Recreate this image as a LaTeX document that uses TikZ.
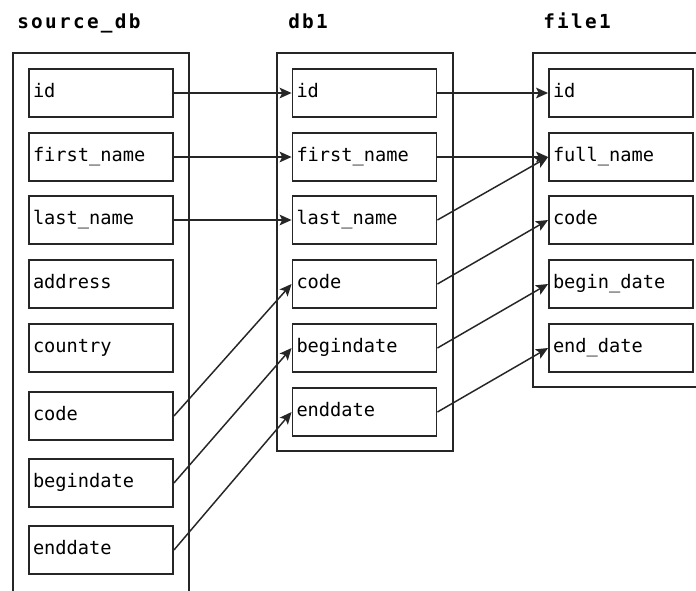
\documentclass[tikz,border=0pt]{standalone}
\usepackage{fontspec}
\newfontfamily\fieldfont{DejaVu Sans Mono}
\newfontfamily\headfont[LetterSpace=12]{DejaVu Sans Mono}
\usetikzlibrary{arrows.meta}

\begin{document}
\begin{tikzpicture}[x=0.75pt,y=-0.75pt,
  frame/.style={draw=black!85, line width=1.4pt},
  field/.style={draw=black!85, line width=1.4pt, minimum width=108pt, minimum height=36pt,
    inner xsep=3pt, inner ysep=0pt, text width=102pt, align=left,
    text height=9.5pt, text depth=3.5pt, font=\fieldfont\fontsize{14pt}{16pt}\selectfont},
  head/.style={anchor=base west, inner sep=0pt, font=\headfont\bfseries\fontsize{14.5pt}{16pt}\selectfont},
  flow/.style={draw=black!85, line width=1.1pt, -{Stealth[length=9pt,width=8pt,inset=2pt]}}]

  \useasboundingbox[fill=white] (0,0) rectangle (696,590);

  % table titles
  \node[head] (tsrc) at (17,28) {source\_db};
  \node[head] (tdb) at (288,28) {db1};
  \node[head] (tfile) at (543,28) {file1};

  % table frames (source_db runs past the bottom, file1 past the right side)
  \draw[frame] (13,596) -- (13,53) -- (189,53) -- (189,596);
  \draw[frame] (277,53) rectangle (453,451);
  \draw[frame] (702,53) -- (533,53) -- (533,387) -- (702,387);

  % source_db columns
  \foreach \n/\t/\y in {id/id/93, first/first\_name/157, last/last\_name/220,
      address/address/284, country/country/348, code/code/416,
      begin/begindate/483, end/enddate/550}
    \node[field] (s-\n) at (101,\y) {\t};

  % db1 columns
  \foreach \n/\t/\y in {id/id/93, first/first\_name/157, last/last\_name/220,
      code/code/284, begin/begindate/348, end/enddate/412}
    \node[field] (d-\n) at (364.5,\y) {\t};

  % file1 columns
  \foreach \n/\t/\y in {id/id/93, full/full\_name/157, code/code/220,
      begin/begin\_date/284, end/end\_date/348}
    \node[field] (f-\n) at (621,\y) {\t};

  % source_db -> db1
  \draw[flow] (s-id.east) -- (d-id.west);
  \draw[flow] (s-first.east) -- (d-first.west);
  \draw[flow] (s-last.east) -- (d-last.west);
  \draw[flow] (s-code.east) -- (d-code.west);
  \draw[flow] (s-begin.east) -- (d-begin.west);
  \draw[flow] (s-end.east) -- (d-end.west);

  % db1 -> file1
  \draw[flow] (d-id.east) -- (f-id.west);
  \draw[flow] (d-first.east) -- (f-full.west);
  \draw[flow] (d-last.east) -- (f-full.west);
  \draw[flow] (d-code.east) -- (f-code.west);
  \draw[flow] (d-begin.east) -- (f-begin.west);
  \draw[flow] (d-end.east) -- (f-end.west);
\end{tikzpicture}
\end{document}
